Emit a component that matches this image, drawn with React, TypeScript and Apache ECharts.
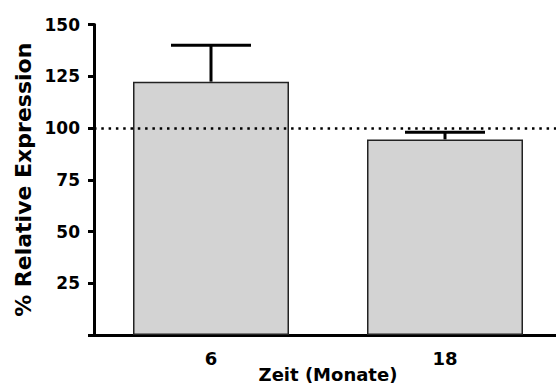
import React, { useEffect, useRef } from "react";
import * as echarts from "echarts";

const categories = ["6", "18"];
const means = [122.4, 94.5];
const upperErrors = [140, 98];
const referenceLevel = 100;
const yTicks = { min: 0, max: 150, interval: 25 };

const FONT = "'DejaVu Sans', 'Liberation Sans', Arial, sans-serif";

export default function App() {
  const ref = useRef<HTMLDivElement>(null);
  useEffect(() => {
    if (!ref.current) return;
    document.documentElement.style.overflow = "hidden";
    document.body.style.overflow = "hidden";
    document.body.style.margin = "0";
    const chart = echarts.init(ref.current, null, { renderer: "svg" });
    const errData = categories.map((c, i) => [i, means[i], upperErrors[i]]);
    chart.setOption({
      animation: false,
      backgroundColor: "#ffffff",
      grid: {
        left: 94,
        top: 24.5,
        width: 468,
        height: 310.5,
        containLabel: false,
        outerBoundsMode: "none",
      },
      xAxis: {
        type: "category",
        data: categories,
        name: "Zeit (Monate)",
        nameLocation: "middle",
        nameGap: 30,
        nameMoveOverlap: false,
        nameTextStyle: { fontFamily: FONT, fontWeight: "bold", fontSize: 18, color: "#000" },
        axisLine: { lineStyle: { color: "#000", width: 3 } },
        axisTick: { alignWithLabel: true, length: 7, lineStyle: { color: "#000", width: 3 } },
        axisLabel: { fontFamily: FONT, fontWeight: "bold", fontSize: 18, color: "#000", margin: 14 },
        splitLine: { show: false },
      },
      yAxis: {
        type: "value",
        min: yTicks.min,
        max: yTicks.max,
        interval: yTicks.interval,
        name: "% Relative Expression",
        nameLocation: "middle",
        nameGap: 60,
        nameMoveOverlap: false,
        nameTextStyle: { fontFamily: FONT, fontWeight: "bold", fontSize: 22, color: "#000" },
        axisLine: { show: true, lineStyle: { color: "#000", width: 3 } },
        axisTick: { show: true, length: 6, lineStyle: { color: "#000", width: 3 } },
        axisLabel: {
          fontFamily: FONT,
          fontWeight: "bold",
          fontSize: 17,
          color: "#000",
          margin: 14,
          formatter: (v: number) => (v === 0 ? "" : String(v)),
        },
        splitLine: { show: false },
      },
      series: [
        {
          type: "line",
          data: [],
          z: 1,
          silent: true,
          markLine: {
            silent: true,
            symbol: "none",
            label: { show: false },
            lineStyle: { color: "#000", width: 2.5, type: [2.5, 4.8] },
            data: [{ yAxis: referenceLevel }],
          },
        },
        {
          type: "bar",
          data: means,
          z: 2,
          barWidth: 156,
          itemStyle: { color: "#d3d3d3", borderColor: "#222", borderWidth: 1.5 },
        },
        {
          type: "custom",
          z: 3,
          data: errData,
          renderItem: (params: any, api: any) => {
            const x = api.value(0);
            const low = api.coord([x, api.value(1)]);
            const high = api.coord([x, api.value(2)]);
            const half = 40;
            return {
              type: "group",
              children: [
                {
                  type: "line",
                  shape: { x1: low[0], y1: low[1], x2: high[0], y2: high[1] },
                  style: { stroke: "#000", lineWidth: 3 },
                },
                {
                  type: "line",
                  shape: { x1: high[0] - half, y1: high[1], x2: high[0] + half, y2: high[1] },
                  style: { stroke: "#000", lineWidth: 3 },
                },
              ],
            };
          },
        },
      ],
    });
    return () => chart.dispose();
  }, []);
  return (
    <div
      ref={ref}
      style={{ position: "absolute", left: 0, top: 0, width: 556, height: 387, overflow: "hidden" }}
    />
  );
}
